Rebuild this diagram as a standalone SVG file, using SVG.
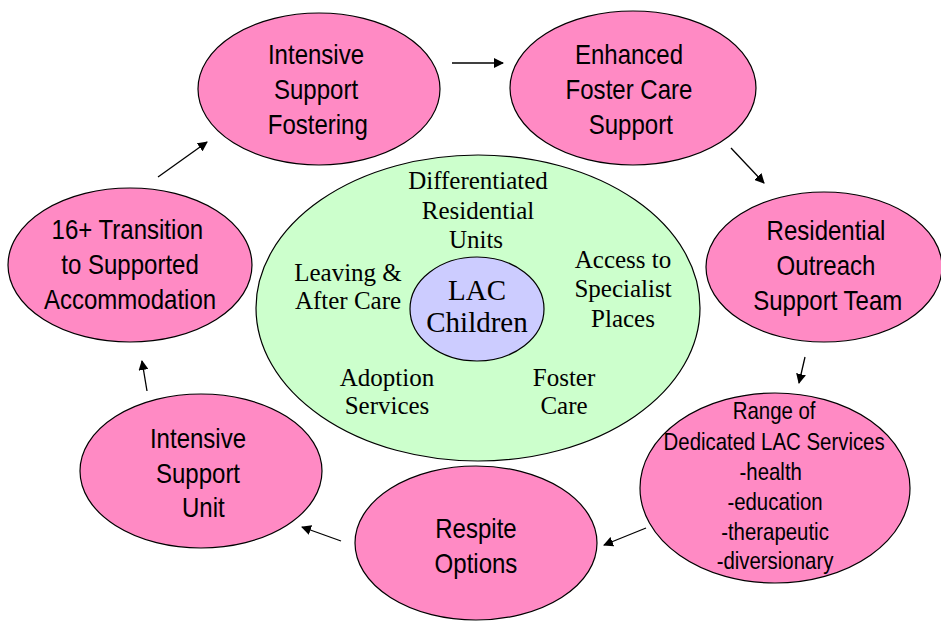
<svg xmlns="http://www.w3.org/2000/svg" width="941" height="626" viewBox="0 0 941 626">
<style>
.pink{fill:#ff8ac4;stroke:#000;stroke-width:1.2}
.t{font-family:"Liberation Sans","Arial Narrow",Arial,sans-serif;font-size:27px;text-anchor:middle;fill:#000}
.s{font-size:24px}
.g{font-family:"Liberation Serif","Times New Roman",serif;font-size:25px;text-anchor:middle;fill:#000}
.c{stroke:#000;stroke-width:1.3;fill:none;marker-end:url(#ah)}
</style>
<defs>
<marker id="ah" viewBox="0 0 10 10" refX="9" refY="5" markerWidth="10" markerHeight="10" markerUnits="userSpaceOnUse" orient="auto">
<path d="M0,0 L10,5 L0,10 z" fill="#000"/>
</marker>
</defs>
<rect width="941" height="626" fill="#fff"/>
<g id="center">
<ellipse cx="478" cy="308" rx="222" ry="153" fill="#ccffcc" stroke="#000" stroke-width="1.2"/>
<text class="g" x="478" y="189">Differentiated</text>
<text class="g" x="478" y="219">Residential</text>
<text class="g" x="476" y="248">Units</text>
<text class="g" x="348" y="281">Leaving &amp;</text>
<text class="g" x="348" y="309">After Care</text>
<text class="g" x="623" y="268">Access to</text>
<text class="g" x="623" y="297">Specialist</text>
<text class="g" x="623" y="327">Places</text>
<text class="g" x="387" y="386">Adoption</text>
<text class="g" x="387" y="414">Services</text>
<text class="g" x="564" y="386">Foster</text>
<text class="g" x="564" y="414">Care</text>
</g>
<g id="lac">
<ellipse cx="477" cy="309" rx="67" ry="52" fill="#ccccff" stroke="#000" stroke-width="1.2"/>
<text class="g" x="477" y="300" style="font-size:29px">LAC</text>
<text class="g" x="477" y="332" style="font-size:29px">Children</text>
</g>
<g id="n1">
<ellipse class="pink" cx="319" cy="89" rx="121" ry="76"/>
<g transform="translate(316 0) scale(0.89 1) translate(-316 0)">
<text class="t" x="316" y="64">Intensive</text>
<text class="t" x="316" y="99">Support</text>
<text class="t" x="318" y="134">Fostering</text>
</g>
</g>
<g id="n2">
<ellipse class="pink" cx="633" cy="88" rx="123" ry="77"/>
<g transform="translate(629 0) scale(0.89 1) translate(-629 0)">
<text class="t" x="629" y="64">Enhanced</text>
<text class="t" x="629" y="99">Foster Care</text>
<text class="t" x="631" y="134">Support</text>
</g>
</g>
<g id="n3">
<ellipse class="pink" cx="824" cy="267" rx="118" ry="75"/>
<g transform="translate(826 0) scale(0.89 1) translate(-826 0)">
<text class="t" x="826" y="240">Residential</text>
<text class="t" x="826" y="275">Outreach</text>
<text class="t" x="828" y="310">Support Team</text>
</g>
</g>
<g id="n4">
<ellipse class="pink" cx="775" cy="488" rx="135" ry="95"/>
<g transform="translate(775 0) scale(0.85 1) translate(-775 0)">
<text class="t s" x="774" y="419">Range of</text>
<text class="t s" x="774" y="450">Dedicated LAC Services</text>
<text class="t s" x="770" y="480">-health</text>
<text class="t s" x="775" y="510">-education</text>
<text class="t s" x="775" y="540">-therapeutic</text>
<text class="t s" x="775" y="569">-diversionary</text>
</g>
</g>
<g id="n5">
<ellipse class="pink" cx="476" cy="543" rx="121" ry="77"/>
<g transform="translate(476 0) scale(0.89 1) translate(-476 0)">
<text class="t" x="476" y="538">Respite</text>
<text class="t" x="476" y="573">Options</text>
</g>
</g>
<g id="n6">
<ellipse class="pink" cx="201" cy="471" rx="121" ry="77"/>
<g transform="translate(198 0) scale(0.89 1) translate(-198 0)">
<text class="t" x="198" y="448">Intensive</text>
<text class="t" x="198" y="483">Support</text>
<text class="t" x="204" y="517">Unit</text>
</g>
</g>
<g id="n7">
<ellipse class="pink" cx="130" cy="265" rx="122" ry="77"/>
<g transform="translate(130 0) scale(0.89 1) translate(-130 0)">
<text class="t" x="127" y="239">16+ Transition</text>
<text class="t" x="130" y="274">to Supported</text>
<text class="t" x="130" y="309">Accommodation</text>
</g>
</g>
<g id="connectors">
<line class="c" x1="452" y1="63" x2="503" y2="63"/>
<line class="c" x1="731" y1="148" x2="764" y2="183"/>
<line class="c" x1="805" y1="357" x2="799" y2="383"/>
<line class="c" x1="646" y1="528" x2="604" y2="545"/>
<line class="c" x1="341" y1="541" x2="302" y2="527"/>
<line class="c" x1="147" y1="391" x2="142" y2="361"/>
<line class="c" x1="158" y1="177" x2="207" y2="142"/>
</g>
</svg>
